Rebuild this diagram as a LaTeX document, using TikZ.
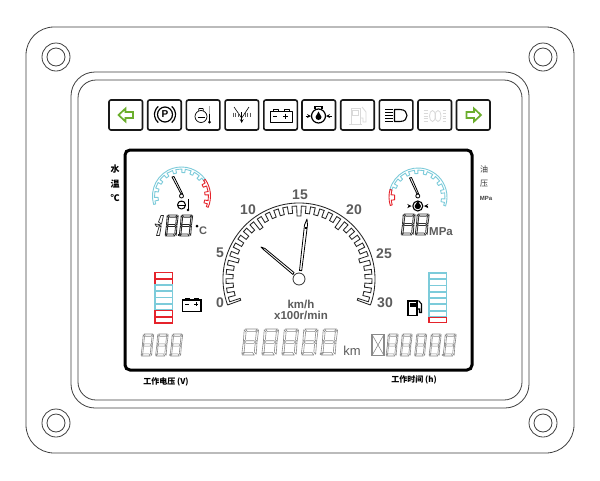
\documentclass[tikz,border=0pt]{standalone}
\usepackage{fontspec}
\setmainfont{Liberation Sans}
\newfontfamily\cjkf{Noto Sans CJK SC}
\definecolor{lcdgreen}{HTML}{6BAE2C}
\definecolor{lcdcyan}{HTML}{7CCBDA}
\definecolor{lcdred}{HTML}{E5232B}
\definecolor{lcdgray}{HTML}{D9D9D9}
\definecolor{seggray}{HTML}{8A8A8A}
\definecolor{txtgray}{HTML}{5C5C5C}
\tikzset{
  x=1pt,y=-1pt,
  body/.style={draw=black!75,line width=.8pt},
  hole/.style={draw=black!75,line width=.8pt},
  btn/.style={draw=black!90,line width=1.6pt,rounded corners=2pt,fill=white},
  ico/.style={draw=black,line width=1pt,line join=round},
  icolight/.style={draw=lcdgray,line width=.8pt},
  greenarrow/.style={draw=lcdgreen,line width=1.7pt,fill=white,line join=miter},
  gaugeline/.style={draw=black!85,line width=.85pt},
  needle/.style={draw=black,line width=.8pt,fill=white,line join=round},
  cnlabel/.style={font=\cjkf\bfseries\fontsize{8}{8}\selectfont,inner sep=0pt},
  dial/.style={font=\bfseries\fontsize{14}{14}\selectfont,text=txtgray,inner sep=0pt},
  unitlabel/.style={font=\bfseries\fontsize{11.5}{12}\selectfont,text=txtgray,inner sep=0pt},
}
% one seven-segment digit: x, y, width, height, colour, line width
\newcommand\segdigit[6]{%
  \begin{scope}[shift={(#1,#2)},xslant=.1,xscale=#3,yscale=#4,draw=#5,line width=#6,line join=round]
    \draw (.10,0) -- (.90,0) -- (.76,.10) -- (.24,.10) -- cycle;
    \draw (.06,1) -- (.86,1) -- (.72,.90) -- (.20,.90) -- cycle;
    \draw (.10,.5) -- (.24,.45) -- (.74,.45) -- (.88,.5) -- (.74,.55) -- (.24,.55) -- cycle;
    \draw (.02,.03) -- (.16,.12) -- (.16,.42) -- (.04,.48) -- cycle;
    \draw (.98,.03) -- (.84,.12) -- (.84,.42) -- (.96,.48) -- cycle;
    \draw (.02,.97) -- (.16,.88) -- (.16,.58) -- (.04,.52) -- cycle;
    \draw (.98,.97) -- (.84,.88) -- (.84,.58) -- (.96,.52) -- cycle;
  \end{scope}}
% crenellated ring, in a scope with upward y: colour, from, to, teeth, outer, middle, inner
\newcommand\crenring[7]{%
  \pgfmathsetmacro\gstep{(#2-(#3))/#4}%
  \pgfmathsetmacro\ghalf{\gstep*.18}%
  \draw[draw=#1,line width=.9pt,line join=round]
  (#2:#5) arc[start angle=#2,end angle=#3,radius=#5] -- (#3:#6)
  \foreach \i in {1,...,#4}{
    -- ({#3+(\i-.5)*\gstep-\ghalf}:#6) -- ({#3+(\i-.5)*\gstep-\ghalf}:#7)
    -- ({#3+(\i-.5)*\gstep+\ghalf}:#7) -- ({#3+(\i-.5)*\gstep+\ghalf}:#6)
  } -- (#2:#6) -- cycle;}
\begin{document}
\begin{tikzpicture}
\useasboundingbox (0,0) rectangle (600,480);
\fill[white] (0,0) rectangle (600,480);
% housing
\draw[body,rounded corners=28pt] (26,27) rectangle (574,453);
\foreach \px/\py in {56/57,543/57,56/423,543/423}{
  \draw[hole] (\px,\py) circle[radius=14];
  \draw[hole] (\px,\py) circle[radius=9];
}
\draw[body,rounded corners=24pt] (71,72) rectangle (529,408);
\draw[body,rounded corners=18pt] (78,80) rectangle (522,400);
% warning buttons
\foreach \bx in {109,147.7,186.4,225.1,263.8,302,340.7,379.4,418,456.5}{
  \draw[btn] (\bx,100) rectangle ++(33.5,30);
}
% left / right arrows
\draw[greenarrow] (118.5,115) -- (125.5,108.5) -- (125.5,112) -- (133,112) -- (133,118) -- (125.5,118) -- (125.5,121.5) -- cycle;
\draw[greenarrow] (481,115) -- (474,108.5) -- (474,112) -- (466.5,112) -- (466.5,118) -- (474,118) -- (474,121.5) -- cycle;
% parking brake
\draw[ico,line width=1.2pt] (165,114.5) circle[radius=7.5];
\node[font=\bfseries\fontsize{10}{10}\selectfont,inner sep=0pt] (parkp) at (165,114.5) {P};
\begin{scope}[shift={(165,114.5)},yscale=-1]
  \draw[ico,line width=1.2pt] (130:10.5) arc[start angle=130,end angle=230,radius=10.5];
  \draw[ico,line width=1.2pt] (50:10.5) arc[start angle=50,end angle=-50,radius=10.5];
\end{scope}
% coolant / oil temperature
\draw[ico,line width=.7pt] (201,116.5) ellipse[x radius=6,y radius=6];
\draw[ico,line width=.7pt] (198.5,110.5) -- (199,108.5) -- (203,108.5) -- (203.5,110.5);
\draw[ico,line width=.7pt] (197.5,117) -- (204.5,117);
\draw[draw=black!35,line width=1.2pt] (209.5,106) -- (209.5,114);
\draw[draw=black,line width=1.5pt] (209.5,114) -- (209.5,122);
\fill (209.5,122) circle[radius=1.5];
% air filter
\draw[ico,line width=.6pt] (234,107) -- (241.7,118) -- (249,107);
\draw[ico,line width=.7pt,-stealth] (241.7,112) -- (241.7,123);
\foreach \dx in {233.5,235.8,238.2,245.2,247.6,250}{
  \draw[draw=black!65,line width=.7pt] (\dx,112.5) -- (\dx,117);
}
% battery (warning)
\draw[ico] (270,111) rectangle (292,122);
\draw[ico] (273,111) -- (273,109.5) -- (278,109.5) -- (278,111);
\draw[ico] (284,111) -- (284,109.5) -- (289,109.5) -- (289,111);
\draw[ico] (273,116) -- (277,116);
\draw[ico] (283,116) -- (288,116) (285.5,113.5) -- (285.5,118.5);
% oil pressure
\draw[draw=black,line width=1.2pt] (318.5,116) circle[radius=7];
\draw[draw=black,line width=1.1pt] (315,109) -- (315,106.5) -- (322,106.5) -- (322,109);
\fill (318.5,111.5) -- (321.5,117) arc[start angle=0,end angle=180,radius=3] -- cycle;
\draw[draw=black,line width=.8pt,-{stealth}] (305.5,116) -- (311,116);
\draw[draw=black,line width=.8pt,-{stealth}] (332,116) -- (326,116);
% fuel (light)
\draw[icolight] (351,124) -- (351,108) -- (360,108) -- (360,124);
\draw[icolight] (349,124.5) -- (362,124.5);
\draw[icolight] (352.5,110) rectangle (358.5,115);
\draw[icolight] (360,118) -- (363,118) -- (363,122) -- (366,122) -- (366,112) -- (362,107);
% head lamp
\draw[ico,line width=1.1pt] (394.5,109.5) -- (400,109.5) .. controls (405,109.5) and (407,112.5) .. (407,115.5) .. controls (407,118.5) and (405,121.5) .. (400,121.5) -- (394.5,121.5) -- cycle;
\foreach \ly in {109.5,112.5,115.5,118.5,121.5}{
  \draw[draw=black,line width=.9pt] (385,\ly) -- (392.5,\ly);
}
% fog lamp (light)
\draw[icolight] (432.5,116) ellipse[x radius=3,y radius=5.5];
\draw[icolight] (438,116) ellipse[x radius=3,y radius=5.5];
\foreach \ly in {110.5,113.2,116,118.8,121.5}{
  \draw[icolight] (423.5,\ly) -- (428,\ly);
  \draw[icolight] (442.5,\ly) -- (446,\ly);
}
% LCD frame
\draw[draw=black,line width=3pt,rounded corners=5pt] (125,150) rectangle (472,370);
% side labels
\node[cnlabel,font=\cjkf\bfseries\fontsize{9}{9}\selectfont] (shui) at (115,169) {水};
\node[cnlabel,font=\cjkf\bfseries\fontsize{9}{9}\selectfont] (wen) at (115,184) {温};
\node[cnlabel,font=\cjkf\bfseries\fontsize{9}{9}\selectfont] (cel) at (115,198) {℃};
\node[cnlabel,font=\cjkf\fontsize{8}{8}\selectfont,text=black!80] (you) at (484,169) {油};
\node[cnlabel,font=\cjkf\fontsize{8}{8}\selectfont,text=black!80] (ya) at (484,184) {压};
\node[inner sep=0pt,font=\bfseries\fontsize{6}{6}\selectfont,text=black!75] (mpaside) at (486,198) {MPa};
\node[cnlabel] (workv) at (166,382) {工作电压 (V)};
\node[cnlabel] (workh) at (414,380) {工作时间 (h)};
% left small gauge
\begin{scope}[shift={(181.5,196)},yscale=-1]
  \crenring{lcdcyan}{197}{35}{8}{29}{27}{23.5}
  \crenring{lcdred}{35}{-23}{3}{29}{27}{23.5}
\end{scope}
\draw[needle] (181,194) -- (172,177) -- (174,176.5) -- (182.5,193.5) -- cycle;
\draw[needle] (181.5,196) circle[radius=2];
\draw[ico,line width=1pt] (181.5,205) circle[radius=4];
\draw[ico,line width=1pt] (177.5,205) -- (185.5,205) (188,199) -- (188,210);
\fill (188,210) circle[radius=1.3];
\draw[ico,line width=.8pt] (179,201) -- (184,201);
% left temperature read-out
\begin{scope}[draw=black!85,line width=.7pt,line join=round]
  \draw (161,215.5) -- (163.5,215.5) -- (161.5,224) -- (158.5,222) -- cycle;
  \draw (159,227) -- (161.2,226) -- (159.5,235.5) -- (156.5,235.5) -- cycle;
  \draw (155,224) -- (159,224.5) -- (161,225) -- (156.5,226.5) -- cycle;
\end{scope}
\segdigit{167}{215}{11.5}{21}{black!85}{.8pt}
\segdigit{181}{215}{12}{21}{black!85}{.8pt}
\fill (178.7,235) circle[radius=1];
\fill (197,226) circle[radius=1.5];
\node[inner sep=0pt,font=\bfseries\fontsize{11}{11}\selectfont,text=txtgray] (degc) at (203,231) {C};
% right small gauge
\begin{scope}[shift={(418,197)},yscale=-1]
  \crenring{lcdcyan}{165}{-18}{9}{29}{27}{23.5}
  \crenring{lcdred}{197}{165}{1}{29}{27}{23.5}
\end{scope}
\draw[needle] (417,194) -- (409.5,178) -- (411.5,177.5) -- (418.5,193.5) -- cycle;
\draw[needle] (417.8,196) circle[radius=2];
\fill (417.8,201) -- (421,206) arc[start angle=0,end angle=180,radius=3.2] -- cycle;
\draw[ico,line width=1.1pt] (417.8,206) circle[radius=5];
\draw[draw=black,line width=.9pt,-{stealth}] (408,206) -- (411.5,206);
\draw[draw=black,line width=.9pt,-{stealth}] (428,206) -- (424,206);
\segdigit{403}{214}{12.5}{21}{black!80}{.8pt}
\segdigit{417}{214}{12.5}{21}{black!80}{.8pt}
\node[unitlabel] (mpa) at (441,232) {MPa};
% centre gauge
\begin{scope}[shift={(299,279)},yscale=-1]
  \draw[gaugeline] (200:76) arc[start angle=200,end angle=-20,radius=76];
  \draw[gaugeline] (200:76) -- (200:62) -- (198.2:62) -- (198.2:73)
    \foreach \i [evaluate=\i as \ri using {ifthenelse(mod(\i,5)==0,63,66)}] in {1,...,29}{
      -- ({200-\i*7.3333+1.8}:73) -- ({200-\i*7.3333+1.8}:\ri)
      -- ({200-\i*7.3333-1.8}:\ri) -- ({200-\i*7.3333-1.8}:73)
    } -- (-18.2:73) -- (-18.2:62) -- (-20:62) -- (-20:76);
\end{scope}
\node[dial] (d0) at (220,303) {0};
\node[dial] (d5) at (220,253) {5};
\node[dial] (d10) at (248,210) {10};
\node[dial] (d15) at (300,195) {15};
\node[dial] (d20) at (354,210) {20};
\node[dial] (d25) at (384,254) {25};
\node[dial] (d30) at (385,303) {30};
\draw[needle] (299.5,270.5) -- (304.5,225) -- (307,219) -- (307.5,225) -- (301.7,270.7) -- cycle;
\draw[draw=black,line width=1.2pt] (304.7,228) -- (307.2,228);
\draw[needle] (293,274.5) -- (264,250) -- (261,247) -- (265,248.5) -- (294,272.5) -- cycle;
\draw[draw=black!80,line width=.8pt,fill=white] (299,279) circle[radius=6];
\node[unitlabel] (kmh) at (301,304) {km/h};
\node[unitlabel] (rmin) at (301,315) {x100r/min};
% left bar
\foreach \cy/\cc in {272.5/lcdred,278.8/lcdred,285/lcdcyan,291.3/lcdcyan,297.5/lcdcyan,303.8/lcdcyan,310.5/lcdred,316.8/lcdred}{
  \draw[draw=\cc,line width=1.8pt] (155,\cy) rectangle ++(17.5,6.2);
}
% battery read-out
\draw[draw=black,line width=1.2pt] (182.5,300) rectangle (201,311.5);
\draw[draw=black,line width=1pt] (185,300) -- (185,298.5) -- (189,298.5) -- (189,300);
\draw[draw=black,line width=1pt] (194,300) -- (194,298.5) -- (198,298.5) -- (198,300);
\draw[draw=black,line width=.8pt] (185,304) -- (189,304) (194,304) -- (198,304) (196,302) -- (196,306);
% right bar
\foreach \cy in {272.8,279.1,285.4,291.7,298,304.3,310.6}{
  \draw[draw=lcdcyan,line width=1.8pt] (429,\cy) rectangle ++(17.5,6.3);
}
\draw[draw=lcdred,line width=1.6pt] (429,317.3) rectangle ++(17.5,5.2);
% fuel read-out
\draw[draw=black,line width=1.6pt,fill=white] (408,315) -- (408,301) -- (417,301) -- (417,315);
\draw[draw=black,line width=1.8pt] (406.5,315.5) -- (418,315.5);
\fill (409.5,302.5) rectangle (415.5,307);
\draw[draw=black,line width=1.1pt] (417,309) -- (419.5,309) -- (419.5,312.5) -- (421.5,312.5) -- (421.5,304) -- (418.5,300.5);
% bottom read-outs
\segdigit{143}{334}{11}{22}{seggray}{.6pt}
\segdigit{157.5}{334}{11}{22}{seggray}{.6pt}
\fill[seggray] (170,355) circle[radius=.9];
\segdigit{172}{334}{11}{22}{seggray}{.6pt}
\foreach \gx in {244,264,284,303.5}{
  \segdigit{\gx}{329}{15}{26}{seggray}{.6pt}
}
\fill[seggray] (320.7,354) circle[radius=1];
\segdigit{323}{329}{15}{26}{seggray}{.6pt}
\node[inner sep=0pt,font=\fontsize{13}{13}\selectfont,text=txtgray] (km) at (352,350.5) {km};
\draw[draw=seggray,line width=1.8pt] (372,334.5) rectangle (384,355.5);
\draw[draw=seggray,line width=.6pt] (372,334.5) -- (384,355.5) (384,334.5) -- (372,355.5);
\foreach \gx in {388,402,416.5,431}{
  \segdigit{\gx}{334}{10.5}{22}{seggray}{.6pt}
}
\fill[seggray] (442.5,355) circle[radius=.9];
\segdigit{445}{334}{11.5}{22}{seggray}{.6pt}
\end{tikzpicture}
\end{document}
